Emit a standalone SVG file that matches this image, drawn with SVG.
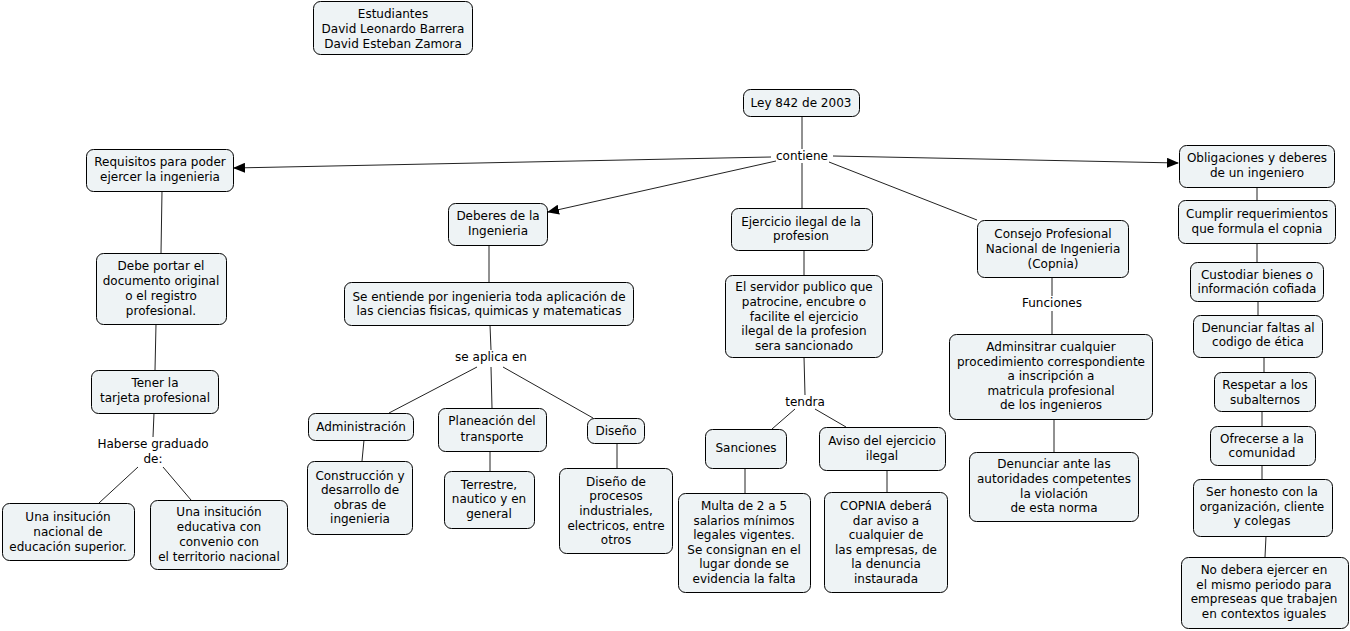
<svg xmlns="http://www.w3.org/2000/svg" width="1350" height="631" viewBox="0 0 1350 631">
<defs>
<style>
.n rect{fill:#eef3f5;stroke:#000;stroke-width:1}
text{font-family:"DejaVu Sans",Verdana,sans-serif;font-size:12px;fill:#000;text-anchor:middle;dominant-baseline:central}
.c line{stroke:#222;stroke-width:1}
.lbl rect{fill:#fff}
</style>
<marker id="ah" markerWidth="12" markerHeight="10" refX="11" refY="5" orient="auto" markerUnits="userSpaceOnUse">
<path d="M0,0 L12,5 L0,10 Z" fill="#000"/>
</marker>
</defs>
<rect width="1350" height="631" fill="#fff"/>
<g class="c">
<line x1="802" y1="116" x2="802" y2="149"/>
<line x1="771" y1="157" x2="234" y2="168" marker-end="url(#ah)"/>
<line x1="776" y1="161" x2="548" y2="212" marker-end="url(#ah)"/>
<line x1="802" y1="163" x2="802" y2="208"/>
<line x1="829" y1="162" x2="977" y2="220"/>
<line x1="833" y1="156" x2="1178" y2="163" marker-end="url(#ah)"/>
<line x1="162" y1="191" x2="161" y2="253"/>
<line x1="156" y1="324" x2="155" y2="370"/>
<line x1="154" y1="413" x2="153" y2="437"/>
<line x1="138" y1="467" x2="99" y2="503"/>
<line x1="163" y1="467" x2="191" y2="500"/>
<line x1="489" y1="245" x2="489" y2="282"/>
<line x1="490" y1="325" x2="491" y2="350"/>
<line x1="477" y1="367" x2="389" y2="413"/>
<line x1="491" y1="367" x2="492" y2="408"/>
<line x1="503" y1="367" x2="593" y2="418"/>
<line x1="364" y1="440" x2="362" y2="461"/>
<line x1="490" y1="451" x2="490" y2="471"/>
<line x1="617" y1="443" x2="617" y2="468"/>
<line x1="804" y1="250" x2="804" y2="275"/>
<line x1="804" y1="357" x2="805" y2="395"/>
<line x1="795" y1="409" x2="772" y2="429"/>
<line x1="815" y1="409" x2="846" y2="427"/>
<line x1="745" y1="468" x2="745" y2="493"/>
<line x1="887" y1="470" x2="887" y2="492"/>
<line x1="1052" y1="277" x2="1052" y2="296"/>
<line x1="1052" y1="311" x2="1052" y2="334"/>
<line x1="1054" y1="419" x2="1054" y2="452"/>
<line x1="1257" y1="187" x2="1257" y2="200"/>
<line x1="1257" y1="243" x2="1257" y2="262"/>
<line x1="1258" y1="301" x2="1258" y2="315"/>
<line x1="1264" y1="357" x2="1264" y2="372"/>
<line x1="1262" y1="411" x2="1262" y2="426"/>
<line x1="1262" y1="465" x2="1262" y2="479"/>
<line x1="1266" y1="536" x2="1265" y2="557"/>
</g>
<g id="estudiantes" class="n"><rect x="313.5" y="1.5" width="159" height="53" rx="7"/><text x="393" y="14">Estudiantes</text><text x="393" y="29">David Leonardo Barrera</text><text x="393" y="44">David Esteban Zamora</text></g>
<g id="ley" class="n"><rect x="743.5" y="89.5" width="116" height="27" rx="7"/><text x="801" y="103">Ley 842 de 2003</text></g>
<g id="contiene"><text x="802" y="156">contiene</text></g>
<g id="requisitos" class="n"><rect x="86.5" y="149.5" width="147" height="42" rx="7"/><text x="160" y="162">Requisitos para poder</text><text x="160" y="177">ejercer la ingenieria</text></g>
<g id="debe" class="n"><rect x="96.5" y="253.5" width="130" height="71" rx="7"/><text x="161" y="266">Debe portar el</text><text x="161" y="281">documento original</text><text x="161" y="296">o el registro</text><text x="161" y="311"> profesional.</text></g>
<g id="tener" class="n"><rect x="91.5" y="370.5" width="127" height="43" rx="7"/><text x="155" y="383">Tener la</text><text x="155" y="398">tarjeta profesional</text></g>
<g id="haberse"><text x="153" y="444">Haberse graduado</text><text x="153" y="459">de:</text></g>
<g id="nacional" class="n"><rect x="2.5" y="503.5" width="132" height="57" rx="7"/><text x="68" y="517">Una insitución</text><text x="68" y="532">nacional de</text><text x="68" y="547">educación superior.</text></g>
<g id="educativa" class="n"><rect x="150.5" y="500.5" width="137" height="69" rx="7"/><text x="219" y="512">Una insitución</text><text x="219" y="527">educativa con</text><text x="219" y="542">convenio con</text><text x="219" y="557">el territorio nacional</text></g>
<g id="deberes" class="n"><rect x="448.5" y="203.5" width="99" height="42" rx="7"/><text x="498" y="216">Deberes de la</text><text x="498" y="231">Ingenieria</text></g>
<g id="seentiende" class="n"><rect x="344.5" y="282.5" width="289" height="43" rx="7"/><text x="489" y="297">Se entiende por ingenieria toda aplicación de</text><text x="489" y="311">las ciencias fisicas, quimicas y matematicas</text></g>
<g id="seaplica"><text x="491" y="357">se aplica en</text></g>
<g id="admin" class="n"><rect x="308.5" y="413.5" width="105" height="27" rx="7"/><text x="361" y="427">Administración</text></g>
<g id="planeacion" class="n"><rect x="438.5" y="408.5" width="108" height="43" rx="7"/><text x="492" y="421">Planeación del</text><text x="492" y="437">transporte</text></g>
<g id="diseno" class="n"><rect x="587.5" y="418.5" width="57" height="25" rx="7"/><text x="616" y="431">Diseño</text></g>
<g id="construccion" class="n"><rect x="307.5" y="461.5" width="105" height="73" rx="7"/><text x="360" y="476">Construcción y</text><text x="360" y="490">desarrollo de</text><text x="360" y="505">obras de</text><text x="360" y="519">ingenieria</text></g>
<g id="terrestre" class="n"><rect x="444.5" y="471.5" width="90" height="57" rx="7"/><text x="489" y="485">Terrestre,</text><text x="489" y="499">nautico y en</text><text x="489" y="514">general</text></g>
<g id="disenode" class="n"><rect x="559.5" y="468.5" width="113" height="85" rx="7"/><text x="616" y="482">Diseño de</text><text x="616" y="496">procesos</text><text x="616" y="511">industriales,</text><text x="616" y="526">electricos, entre</text><text x="616" y="540">otros</text></g>
<g id="ejercicio" class="n"><rect x="731.5" y="208.5" width="141" height="42" rx="7"/><text x="801" y="222">Ejercicio ilegal de la</text><text x="801" y="236">profesion</text></g>
<g id="servidor" class="n"><rect x="725.5" y="275.5" width="157" height="82" rx="7"/><text x="804" y="287">El servidor publico que</text><text x="804" y="302">patrocine, encubre o</text><text x="804" y="317">facilite el ejercicio</text><text x="804" y="331">ilegal de la profesion</text><text x="804" y="346">sera sancionado</text></g>
<g id="tendra"><text x="805" y="402">tendra</text></g>
<g id="sanciones" class="n"><rect x="705.5" y="429.5" width="81" height="39" rx="7"/><text x="746" y="448">Sanciones</text></g>
<g id="aviso" class="n"><rect x="819.5" y="427.5" width="126" height="43" rx="7"/><text x="882" y="441">Aviso del ejercicio</text><text x="882" y="456">ilegal</text></g>
<g id="multa" class="n"><rect x="678.5" y="493.5" width="132" height="99" rx="7"/><text x="744" y="506">Multa de 2 a 5</text><text x="744" y="521">salarios mínimos</text><text x="744" y="535">legales vigentes.</text><text x="744" y="550">Se consignan en el</text><text x="744" y="564">lugar donde se</text><text x="744" y="579">evidencia la falta</text></g>
<g id="copnia" class="n"><rect x="824.5" y="492.5" width="123" height="100" rx="7"/><text x="886" y="506">COPNIA deberá</text><text x="886" y="521">dar  aviso a</text><text x="886" y="535">cualquier de</text><text x="886" y="550">las empresas, de</text><text x="886" y="564">la denuncia</text><text x="886" y="579">instaurada</text></g>
<g id="consejo" class="n"><rect x="977.5" y="220.5" width="151" height="57" rx="7"/><text x="1053" y="234">Consejo Profesional</text><text x="1053" y="249">Nacional de Ingenieria</text><text x="1053" y="264">(Copnia)</text></g>
<g id="funciones"><text x="1052" y="303">Funciones</text></g>
<g id="adminsitrar" class="n"><rect x="949.5" y="334.5" width="203" height="85" rx="7"/><text x="1051" y="347">Adminsitrar cualquier</text><text x="1051" y="362">procedimiento correspondiente</text><text x="1051" y="376">a inscripción a</text><text x="1051" y="391">matricula profesional</text><text x="1051" y="405">de los ingenieros</text></g>
<g id="denunciarante" class="n"><rect x="969.5" y="452.5" width="169" height="69" rx="7"/><text x="1054" y="464">Denunciar ante las</text><text x="1054" y="479">autoridades competentes</text><text x="1054" y="494">la violación</text><text x="1054" y="508">de esta norma</text></g>
<g id="obligaciones" class="n"><rect x="1179.5" y="145.5" width="155" height="42" rx="7"/><text x="1257" y="158">Obligaciones y deberes</text><text x="1257" y="173">de un ingeniero</text></g>
<g id="cumplir" class="n"><rect x="1178.5" y="200.5" width="157" height="43" rx="7"/><text x="1257" y="214">Cumplir requerimientos</text><text x="1257" y="229">que formula el copnia</text></g>
<g id="custodiar" class="n"><rect x="1190.5" y="262.5" width="133" height="39" rx="7"/><text x="1257" y="275">Custodiar bienes o</text><text x="1257" y="289">información cofiada</text></g>
<g id="denunciarfaltas" class="n"><rect x="1193.5" y="315.5" width="129" height="42" rx="7"/><text x="1258" y="328">Denunciar faltas al</text><text x="1258" y="342">codigo de ética</text></g>
<g id="respetar" class="n"><rect x="1214.5" y="372.5" width="101" height="39" rx="7"/><text x="1265" y="385">Respetar a los</text><text x="1265" y="400">subalternos</text></g>
<g id="ofrecerse" class="n"><rect x="1210.5" y="426.5" width="105" height="39" rx="7"/><text x="1262" y="439">Ofrecerse a la</text><text x="1262" y="453">comunidad</text></g>
<g id="honesto" class="n"><rect x="1193.5" y="479.5" width="139" height="57" rx="7"/><text x="1262" y="492">Ser honesto con la</text><text x="1262" y="507">organización, cliente</text><text x="1262" y="521">y colegas</text></g>
<g id="nodebera" class="n"><rect x="1181.5" y="557.5" width="167" height="71" rx="7"/><text x="1264" y="570">No debera ejercer en</text><text x="1264" y="585">el mismo periodo para</text><text x="1264" y="599">empreseas que trabajen</text><text x="1264" y="614">en contextos iguales</text></g>
</svg>
